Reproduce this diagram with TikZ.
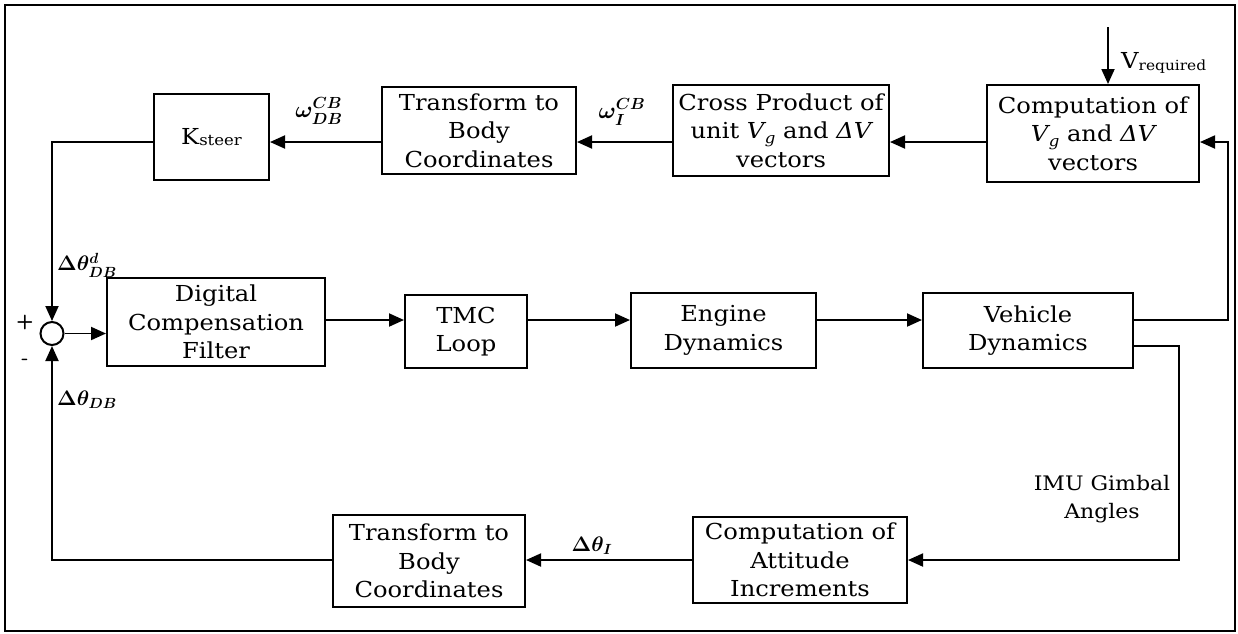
\RequirePackage{fix-cm}
\documentclass[tikz,border=0pt]{standalone}
\usepackage{amsmath}
\usepackage{fontspec}
\setmainfont{DejaVu Serif}[FakeStretch=1.1]
\usetikzlibrary{arrows.meta,calc}
\newcommand\boxfont{\fontsize{22}{28.5}\selectfont}
\newcommand\lblfont{\fontsize{21}{24}\selectfont\boldmath}
\newcommand\smallsub[2][14]{{\fontsize{#1}{#1}\selectfont\raisebox{-1.5pt}{#2}}}
% italic vector symbols set in the text face
\newcommand\Vg{{\itshape V\kern0.5pt{\fontsize{15}{15}\selectfont\raisebox{-4.5pt}{g}}}}
\newcommand\dV{{\itshape ΔV}}
\begin{document}
\begin{tikzpicture}[x=1pt,y=-1pt,
  blk/.style={draw, line width=2pt, align=center, inner sep=0pt, font=\boxfont},
  lbl/.style={inner sep=0pt, font=\lblfont},
  conn/.style={line width=1.9pt},
  arr/.style={conn, -{Triangle[length=15pt,width=13pt]}},
  sumnode/.style={circle, draw, line width=2pt, minimum size=23pt, inner sep=0pt}]
\useasboundingbox (0,0) rectangle (1238,633);
\draw[line width=2pt] (5,5) rectangle (1235,631);

% signal levels and turning points
\coordinate (toprow) at (0,142);
\coordinate (midrow) at (0,320);
\coordinate (imurow) at (0,346);
\coordinate (botrow) at (0,560);
\coordinate (fbtop) at (1228,0);
\coordinate (fbbot) at (1179,0);
\coordinate (vin) at (1108,27);

% upper chain
\node[blk, minimum width=115pt, minimum height=86pt] (ksteer) at (211.5,137) {K\smallsub[15]{steer}};
\node[blk, minimum width=194pt, minimum height=87pt] (tr1) at (479,130.5) {Transform to\\Body\\Coordinates};
\node[blk, minimum width=216pt, minimum height=91pt] (cross) at (781,130.5) {Cross Product of\\unit \Vg{} and \dV\\vectors};
\node[blk, minimum width=212pt, minimum height=97pt] (comp) at (1093,133.5) {Computation of\\\Vg{} and \dV\\vectors};

% forward path
\node[sumnode] (sum) at (52,333.5) {};
\node[blk, minimum width=218pt, minimum height=88pt] (dcf) at (216,322) {Digital\\Compensation\\Filter};
\node[blk, minimum width=122pt, minimum height=73pt] (tmc) at (466,331.5) {TMC\\Loop};
\node[blk, minimum width=185pt, minimum height=75pt] (eng) at (723.5,330.5) {Engine\\Dynamics};
\node[blk, minimum width=210pt, minimum height=75pt] (veh) at (1028,330.5) {Vehicle\\Dynamics};

% attitude feedback
\node[blk, minimum width=192pt, minimum height=92pt] (tr2) at (429,561) {Transform to\\Body\\Coordinates};
\node[blk, minimum width=214pt, minimum height=86pt] (att) at (800,560) {Computation of\\Attitude\\Increments};

% labels
\node[lbl, font=\fontsize{23}{26}\selectfont\boldmath] (wdb) at (319,111) {$\omega_{DB}^{CB}$};
\node[lbl, font=\fontsize{23}{26}\selectfont\boldmath] (wi) at (622,112) {$\omega_{I}^{CB}$};
\node[lbl, font=\boxfont, anchor=west] (vreq) at (1121,63) {V\smallsub{required}};
\node[lbl] (dtd) at (87,265) {$\Delta\theta_{DB}^{d}$};
\node[lbl] (dt) at (87,400) {$\Delta\theta_{DB}$};
\node[lbl] (dti) at (592,546) {$\Delta\theta_{I}$};
\node[lbl, font=\fontsize{20}{28}\selectfont, align=center] (imu) at (1102,499) {IMU Gimbal\\Angles};
\node[lbl, font=\fontsize{20}{20}\bfseries\sffamily] (plus) at (25,322) {+};
\node[lbl, font=\fontsize{20}{20}\bfseries\sffamily] (minus) at (25,362) {-};

% connectors
\draw[arr] (vin) -- (vin |- comp.north);
\draw[arr] (comp.west |- toprow) -- (cross.east |- toprow);
\draw[arr] (cross.west |- toprow) -- (tr1.east |- toprow);
\draw[arr] (tr1.west |- toprow) -- (ksteer.east |- toprow);
\draw[arr] (ksteer.west |- toprow) -| (sum.north);
\draw[arr] (tr2.west |- botrow) -| (sum.south);
\draw[arr] (sum.east) -- (dcf.west |- sum.east);
\draw[arr] (dcf.east |- midrow) -- (tmc.west |- midrow);
\draw[arr] (tmc.east |- midrow) -- (eng.west |- midrow);
\draw[arr] (eng.east |- midrow) -- (veh.west |- midrow);
\draw[arr] (veh.east |- midrow) -| (fbtop |- toprow) -- (comp.east |- toprow);
\draw[arr] (veh.east |- imurow) -| (fbbot |- botrow) -- (att.east |- botrow);
\draw[arr] (att.west |- botrow) -- (tr2.east |- botrow);
\end{tikzpicture}
\end{document}
